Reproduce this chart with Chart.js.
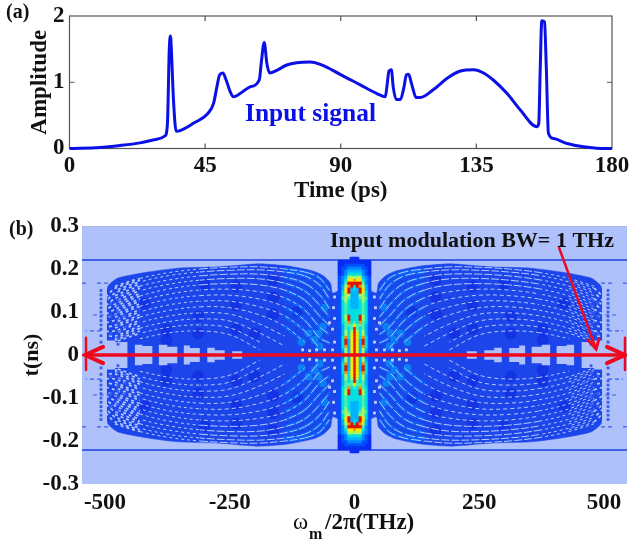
<!DOCTYPE html>
<html>
<head>
<meta charset="utf-8">
<title>Input signal and spectrogram</title>
<script src="https://cdn.jsdelivr.net/npm/chart.js@4"></script>
<style>
  html, body { margin: 0; padding: 0; background: #fff; }
  body { position: relative; width: 629px; height: 543px; overflow: hidden; }
  canvas { position: absolute; left: 0; }
  #signalChart { top: 0; }
  #spectrumChart { top: 205px; }
</style>
</head>
<body>
<canvas id="signalChart" width="629" height="205"></canvas>
<canvas id="spectrumChart" width="629" height="338"></canvas>
<script>
// Panel (a): input signal
const timeValues = [0, 10, 16.8, 23.4, 29, 31.7, 32.5, 33.1, 33.5, 33.8, 34.5, 35.4, 36.7, 41.1, 46.1, 47.8, 48.9, 49.8, 50.9, 52, 53.3, 54.4, 56.6, 59.9, 63, 63.6, 64.6, 65.5, 66.4, 68.8, 72.1, 75.4, 79.8, 83.2, 89.8, 96.5, 102, 104.8, 105.3, 106, 106.8, 107.4, 108.4, 109.8, 110.9, 111.8, 112.5, 113.6, 115, 116.4, 120.8, 125.3, 129.7, 134.1, 137.4, 140.7, 145.2, 149.6, 155.1, 155.7, 156.2, 156.7, 157.6, 158.2, 158.9, 160.7, 165.1, 170.6, 175, 180];
const amplitudeValues = [0, 0.015, 0.045, 0.085, 0.14, 0.19, 0.38, 1.49, 1.7, 1.49, 0.73, 0.26, 0.27, 0.38, 0.54, 0.68, 0.93, 1.11, 1.14, 1.03, 0.86, 0.78, 0.83, 0.93, 1.04, 1.28, 1.6, 1.28, 1.14, 1.18, 1.26, 1.295, 1.305, 1.27, 1.12, 0.96, 0.83, 0.78, 0.93, 1.17, 1.19, 0.93, 0.74, 0.74, 0.91, 1.11, 1.12, 0.96, 0.77, 0.77, 0.89, 1.06, 1.17, 1.19, 1.14, 1.03, 0.83, 0.58, 0.33, 0.38, 1.23, 1.93, 1.91, 1.23, 0.23, 0.15, 0.075, 0.025, 0.005, 0];
const timeTicks = [0, 45, 90, 135, 180];
const amplitudeTicks = [0, 1, 2];

// Panel (b): axes
const omegaTicks = [-500, -250, 0, 250, 500];
const delayTicks = [-0.3, -0.2, -0.1, 0, 0.1, 0.2, 0.3];

// Panel (b): upper right quadrant, the picture mirrors it on both axes
const envelopeOmega = [30, 44, 48, 62, 82, 133, 193, 273, 353, 414, 474, 494, 500];
const envelopeT = [0.15, 0.144, 0.167, 0.184, 0.195, 0.207, 0.212, 0.205, 0.202, 0.193, 0.179, 0.16, 0.12];

// light patches along the red line
const gapOmega = [205, 225, 245, 260, 280, 295, 310, 330, 342, 355, 375, 392, 405, 425, 440, 455, 480, 496, 560];
const gapT = [0, 0.009, 0, 0.011, 0.017, 0, 0.016, 0.022, 0, 0.019, 0.024, 0, 0.021, 0.024, 0, 0.03, 0.034, 0.2, 0.2];

// light fringes, one row per arc
const fringeOmega = [50, 70, 100, 140, 190, 250, 310, 370, 430, 480];
const fringeRows = [
  [0.150, 0.179, 0.193, 0.200, 0.205, 0.204, 0.200, 0.192, 0.178, 0.160],
  [0.130, 0.163, 0.184, 0.193, 0.198, 0.197, 0.193, 0.185, 0.170, 0.150],
  [0.108, 0.140, 0.167, 0.181, 0.188, 0.188, 0.184, 0.175, 0.160, 0.138],
  [0.088, 0.116, 0.149, 0.167, 0.177, 0.178, 0.174, 0.165, 0.149, 0.125],
  [0.068, 0.091, 0.128, 0.151, 0.163, 0.166, 0.163, 0.154, 0.137, 0.112],
  [0.048, 0.065, 0.105, 0.133, 0.147, 0.153, 0.151, 0.142, 0.125, 0.100],
  [0.028, 0.040, 0.081, 0.112, 0.130, 0.139, 0.138, 0.130, 0.113, 0.088],
  [null, 0.016, 0.056, 0.091, 0.112, 0.125, 0.125, 0.117, 0.100, 0.075],
  [null, null, 0.030, 0.067, 0.093, 0.110, 0.112, 0.104, 0.088, 0.063],
  [null, null, null, 0.044, 0.072, 0.095, 0.098, 0.091, 0.075, 0.050],
  [null, null, null, 0.021, 0.051, 0.079, 0.084, 0.078, 0.062, 0.038],
  [null, null, null, null, 0.030, 0.063, 0.070, 0.065, 0.050, 0.030],
  [null, null, null, null, 0.012, 0.047, 0.056, 0.052, 0.038, null],
];

// extra short fringes where the fan thins out at the outer edge
const outerOmega = [430, 480, 498];
const outerRows = [
  [0.174, 0.155, 0.135],
  [0.165, 0.144, 0.125],
  [0.155, 0.131, 0.115],
  [0.143, 0.118, 0.105],
  [0.131, 0.106, 0.095],
  [0.119, 0.094, 0.085],
  [0.106, 0.081, 0.075],
  [0.094, 0.069, 0.065],
  [0.081, 0.056, 0.055],
  [0.068, 0.044, 0.045],
  [0.056, 0.034, null],
  [0.044, null, null],
];

// darker columns in the fan
const darkOmega = [163, 163, 163, 237, 237, 237, 313, 313, 377, 377, 115, 420, 300, 200];
const darkT = [0.175, 0.135, 0.095, 0.16, 0.115, 0.06, 0.09, 0.05, 0.06, 0.035, 0.1, 0.12, 0.165, 0.05];

// brighter spots next to the central stripe
const brightOmega = [64, 72, 80, 70, 92, 106, 60];
const brightT = [0.065, 0.05, 0.035, 0.02, 0.05, 0.03, 0.11];

// light chips between the stripe and the fan
const chipOmega = [40, 42, 40, 44, 40, 44, 50, 60, 76, 90, 104];
const chipT = [0.135, 0.11, 0.085, 0.06, 0.03, 0.012, 0.075, 0.012, 0.012, 0.01, 0.012];

// stray dots at the outer edge
const strayOmega = [508, 508, 508, 508, 508, 508, 508, 508, 508, 508, 508, 508, 474, 474, 474, 474, 474, 474, 474, 474, 488, 488, 488, 460, 460, 460];
const strayT = [0.15, 0.14, 0.13, 0.12, 0.11, 0.1, 0.09, 0.08, 0.07, 0.06, 0.045, 0.03, 0.13, 0.115, 0.1, 0.085, 0.07, 0.055, 0.04, 0.025, 0.12, 0.09, 0.05, 0.09, 0.065, 0.045];

// short horizontal dashes at the outer edge
const dashStart = [494, 538, 474, 508];
const dashEnd = [518, 548, 530, 538];
const dashT = [0.167, 0.167, 0.093, 0.056];

// central stripe, digits are colour levels, '.' leaves the cell empty
const stripeOmega = [0, 6, 12, 18, 24, 30, 36];
const stripeT = [0, 0.007, 0.014, 0.021, 0.028, 0.035, 0.042, 0.049, 0.056, 0.063, 0.07, 0.077, 0.084, 0.091, 0.098, 0.105, 0.112, 0.119, 0.126, 0.133, 0.14, 0.147, 0.154, 0.161, 0.168, 0.175, 0.182, 0.189, 0.196, 0.203, 0.21, 0.217, 0.224];
const stripeRows = [
  "983621.", "973621.", "973631.", "973841.", "973941.", "973941.", "974841.", "974631.", "964631.",
  "954531.", "755531.", "548541.", "449641.", "449641.", "444541.", "444541.", "334541.", "334541.",
  "334641.", "335651.", "336641.", "339741.", "439731.", "498631.", "999521.", "877421.", "666321.",
  "444210.", "333210.", "222110.", "111100.", "000000.", "00.....",
];
const levelColors = ["#0a2cf0", "#0050ff", "#0088ff", "#00b4ff", "#00e0e0", "#4cf0a8", "#a8f860", "#ffe800", "#ff8c00", "#dc1400"];

// red annotation marks
const spanOmega = [-540, 542];
const leftHeadOmega = [-504, -540, -504];
const rightHeadOmega = [506, 542, 506];
const headT = [0.019, 0, -0.019];
const leftBarOmega = [-538, -538];
const rightBarOmega = [542, 542];
const barT = [0.04, -0.035];
const pointerOmega = [410, 484];
const pointerT = [0.249, 0.014];
const pointerHeadOmega = [468, 484, 490];
const pointerHeadT = [0.035, 0.014, 0.037];

const serif = "'Liberation Serif', 'Times New Roman', serif";
const lightBlue = "#aec1fb";
const fanBlue = "#1c46ea";
const red = "#ee0a1e";

function pts(xs, ys) {
  return xs.map((x, i) => ({ x: x, y: ys[i] })).filter((p) => p.y !== null);
}

function mirror(points, sx, sy) {
  const out = points.map((p) => ({ x: p.x * sx, y: p.y * sy }));
  return sx < 0 ? out.reverse() : out;
}

const quadrants = [[1, 1], [-1, 1], [1, -1], [-1, -1]];

const labelPlugin = {
  id: "labels",
  afterDraw(chart, args, opts) {
    const ctx = chart.ctx;
    (opts.items || []).forEach((item) => {
      ctx.save();
      ctx.translate(item.x, item.y);
      if (item.rotate) ctx.rotate(item.rotate);
      ctx.font = item.font;
      ctx.fillStyle = item.color || "#111";
      ctx.textAlign = item.align || "left";
      ctx.textBaseline = "middle";
      if (item.width) ctx.fillText(item.text, 0, 0, item.width);
      else ctx.fillText(item.text, 0, 0);
      ctx.restore();
    });
  },
};

// frame and inward ticks for the signal panel
const framePlugin = {
  id: "frame",
  beforeDatasetsDraw(chart) {
    const { ctx, chartArea: a, scales } = chart;
    ctx.save();
    ctx.strokeStyle = "#555";
    ctx.lineWidth = 1.2;
    ctx.strokeRect(a.left, a.top, a.width, a.height);
    ctx.beginPath();
    timeTicks.slice(1, -1).forEach((v) => {
      const x = scales.x.getPixelForValue(v);
      ctx.moveTo(x, a.top);
      ctx.lineTo(x, a.top + 5);
      ctx.moveTo(x, a.bottom);
      ctx.lineTo(x, a.bottom - 5);
    });
    const y = scales.y.getPixelForValue(1);
    ctx.moveTo(a.left, y);
    ctx.lineTo(a.left + 5, y);
    ctx.moveTo(a.right, y);
    ctx.lineTo(a.right - 5, y);
    ctx.stroke();
    ctx.restore();
  },
};

const backgroundPlugin = {
  id: "plotBackground",
  beforeDatasetsDraw(chart) {
    const { ctx, chartArea: a } = chart;
    ctx.save();
    ctx.fillStyle = lightBlue;
    ctx.fillRect(a.left, a.top, a.width, a.height);
    ctx.restore();
  },
};

function tickAxis(values, size, sizeKey, min, max, padding) {
  return {
    type: "linear",
    min: min,
    max: max,
    grid: { display: false, drawTicks: false },
    border: { display: false },
    afterBuildTicks(scale) {
      scale.ticks = values.map((v) => ({ value: v }));
    },
    afterFit(scale) {
      scale[sizeKey] = size;
      scale.paddingLeft = 0;
      scale.paddingRight = 0;
      scale.paddingTop = 0;
      scale.paddingBottom = 0;
    },
    ticks: {
      font: { family: serif, size: 23, weight: "bold" },
      color: "#111",
      padding: padding,
      maxRotation: 0,
      autoSkip: false,
      callback: (v) => String(v),
    },
  };
}

// Signal panel
const signalX = tickAxis(timeTicks, 56.5, "height", 0, 180, 4);
signalX.title = { display: true, text: "Time (ps)", font: { family: serif, size: 23, weight: "bold" }, color: "#111", padding: { top: 0, bottom: 0 } };
const signalY = tickAxis(amplitudeTicks, 69.5, "width", 0, 2, 5);
signalY.title = { display: true, text: "Amplitude", font: { family: serif, size: 23, weight: "bold" }, color: "#111", padding: { top: 26, bottom: 0 } };

new Chart(document.getElementById("signalChart"), {
  type: "scatter",
  data: {
    datasets: [
      {
        label: "Input signal",
        data: pts(timeValues, amplitudeValues),
        showLine: true,
        borderColor: "#0a10e6",
        borderWidth: 3,
        pointRadius: 0,
        cubicInterpolationMode: "monotone",
        clip: false,
      },
    ],
  },
  options: {
    responsive: false,
    animation: false,
    layout: { padding: { top: 16, right: 17, left: 0, bottom: 0 } },
    plugins: {
      legend: { display: false },
      tooltip: { enabled: false },
      labels: {
        items: [
          { text: "(a)", x: 6, y: 13, font: "bold 20px " + serif },
          { text: "Input signal", x: 245, y: 114, font: "bold 26px " + serif, color: "#0a10e6", width: 131 },
        ],
      },
    },
    scales: { x: signalX, y: signalY },
  },
  plugins: [framePlugin, labelPlugin],
});

// Spectrum panel, layers are pushed back to front
const layers = [];
function addLayer(ds) {
  ds.order = -layers.length;
  ds.pointRadius = ds.pointRadius || 0;
  ds.showLine = ds.showLine !== false;
  layers.push(ds);
}

function fringeDash(ctx) {
  const w = Math.abs(ctx.p0.parsed.x);
  if (w < 120) return [10, 3];
  if (w >= 370) return [3, 3];
  return undefined;
}

function outerWidth(ctx) {
  return Math.abs(ctx.p0.parsed.x) >= 450 ? 1.7 : undefined;
}

addLayer({ data: pts([-546, 546], [0.3, 0.3]), borderColor: "#8f9bb8", borderWidth: 1, borderDash: [1, 1], tension: 0 });

quadrants.forEach(([sx, sy]) => {
  addLayer({
    data: mirror(pts(envelopeOmega, envelopeT), sx, sy),
    borderColor: fanBlue,
    borderWidth: 0.5,
    backgroundColor: fanBlue,
    fill: { target: { value: 0 } },
    tension: 0.2,
  });
});

quadrants.forEach(([sx, sy]) => {
  addLayer({
    data: mirror(pts(darkOmega, darkT), sx, sy),
    showLine: false,
    pointStyle: "circle",
    pointRadius: 6,
    pointBackgroundColor: "rgba(0,10,215,0.3)",
    pointBorderWidth: 0,
  });
  addLayer({
    data: mirror(pts(brightOmega, brightT), sx, sy),
    showLine: false,
    pointStyle: "circle",
    pointRadius: 4,
    pointBackgroundColor: "rgba(0,175,245,0.55)",
    pointBorderWidth: 0,
  });
});

// brighter bands between the inner fringes
fringeRows.forEach((row) => {
  quadrants.forEach(([sx, sy]) => {
    addLayer({
      data: mirror(pts(fringeOmega.slice(0, 4), row.slice(0, 4)), sx, sy),
      borderColor: "rgba(0,120,255,0.55)",
      borderWidth: 3.5,
      tension: 0.35,
    });
  });
});

fringeRows.forEach((row, k) => {
  quadrants.forEach(([sx, sy]) => {
    addLayer({
      data: mirror(pts(fringeOmega, row), sx, sy),
      borderColor: "#b4c8fc",
      borderWidth: 1,
      borderDash: k < 5 ? [8, 2] : [4, 3],
      borderDashOffset: k % 2 ? 3 : 0,
      tension: 0.35,
      segment: { borderDash: fringeDash, borderWidth: outerWidth },
    });
  });
});

outerRows.forEach((row, k) => {
  quadrants.forEach(([sx, sy]) => {
    addLayer({
      data: mirror(pts(outerOmega, row), sx, sy),
      borderColor: "#b4c8fc",
      borderWidth: 1,
      borderDash: [3, 3],
      borderDashOffset: k % 2 ? 3 : 0,
      tension: 0.3,
      segment: { borderWidth: outerWidth },
    });
  });
});

quadrants.forEach(([sx, sy]) => {
  addLayer({
    data: mirror(pts(gapOmega, gapT), sx, sy),
    borderColor: lightBlue,
    borderWidth: 0,
    backgroundColor: lightBlue,
    fill: { target: { value: 0 } },
    stepped: sx > 0 ? "before" : "after",
  });
  addLayer({
    data: mirror(pts(chipOmega, chipT), sx, sy),
    showLine: false,
    pointStyle: "rect",
    pointRadius: 2,
    pointBackgroundColor: "#c3d2fd",
    pointBorderWidth: 0,
  });
});

quadrants.forEach(([sx, sy]) => {
  addLayer({
    data: pts(strayOmega.map((w) => w * sx), strayT.map((t) => t * sy)),
    showLine: false,
    pointStyle: "rect",
    pointRadius: 2,
    pointBackgroundColor: "#3a5cf0",
    pointBorderWidth: 0,
  });
  dashT.forEach((t, i) => {
    addLayer({
      data: pts([dashStart[i] * sx, dashEnd[i] * sx], [t * sy, t * sy]),
      borderColor: "#3a5cf0",
      borderWidth: 1.2,
      borderDash: [4, 3],
      tension: 0,
    });
  });
});

[1, -1].forEach((sy) => {
  addLayer({ data: pts([-546, 546], [0.221 * sy, 0.221 * sy]), borderColor: "#1c40e4", borderWidth: 1.5, tension: 0 });
});

// central stripe cells, one point per cell
const stripeCells = [];
const stripeColors = [];
stripeRows.forEach((row, r) => {
  row.split("").forEach((c, i) => {
    if (c === ".") return;
    quadrants.forEach(([sx, sy]) => {
      stripeCells.push({ x: stripeOmega[i] * sx, y: stripeT[r] * sy });
      stripeColors.push(levelColors[+c]);
    });
  });
});
addLayer({
  data: stripeCells,
  showLine: false,
  pointStyle: "rect",
  pointRadius: 2.6,
  pointBackgroundColor: stripeColors,
  pointBorderWidth: 0,
});

// red span with arrow heads and the pointer from the annotation
const redLine = (data, width) => addLayer({ data: data, borderColor: red, borderWidth: width, tension: 0, borderCapStyle: "round" });
redLine(pts(spanOmega, [0, 0]), 3.5);
redLine(pts(leftHeadOmega, headT), 4);
redLine(pts(rightHeadOmega, headT), 4);
redLine(pts(leftBarOmega, barT), 2.5);
redLine(pts(rightBarOmega, barT), 2.5);
redLine(pts(pointerOmega, pointerT), 2.5);
redLine(pts(pointerHeadOmega, pointerHeadT), 3);

const spectrumX = tickAxis(omegaTicks, 59, "height", -546, 546, 5);
const spectrumY = tickAxis(delayTicks, 82, "width", -0.3, 0.3, 3);

new Chart(document.getElementById("spectrumChart"), {
  type: "scatter",
  data: { datasets: layers },
  options: {
    responsive: false,
    animation: false,
    layout: { autoPadding: false, padding: { top: 21, right: 2, left: 0, bottom: 0 } },
    plugins: {
      legend: { display: false },
      tooltip: { enabled: false },
      labels: {
        items: [
          { text: "(b)", x: 9, y: 25, font: "bold 20px " + serif },
          { text: "Input modulation BW= 1 THz", x: 330, y: 36, font: "bold 22px " + serif, width: 284 },
          { text: "t(ns)", x: 32, y: 150, font: "bold 22px " + serif, align: "center", rotate: -Math.PI / 2 },
          { text: "ω", x: 293, y: 318, font: "23px " + serif },
          { text: "m", x: 309, y: 330, font: "bold 16px " + serif },
          { text: "/2π(THz)", x: 325, y: 318, font: "bold 23px " + serif },
        ],
      },
    },
    scales: { x: spectrumX, y: spectrumY },
  },
  plugins: [backgroundPlugin, labelPlugin],
});
</script>
</body>
</html>
